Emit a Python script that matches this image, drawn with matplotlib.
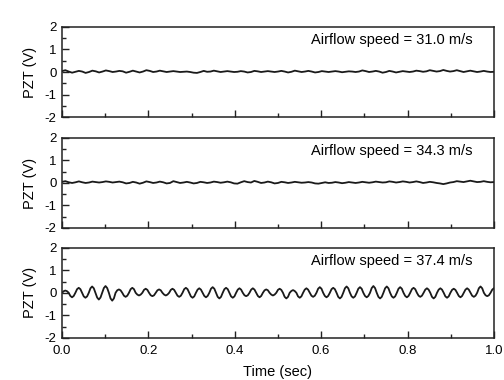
import numpy as np
import matplotlib
matplotlib.use("Agg")
import matplotlib.pyplot as plt
from matplotlib.ticker import MultipleLocator

plt.rcParams['font.family'] = ['Liberation Sans', 'DejaVu Sans']

speeds = ["31.0", "34.3", "37.4"]
x_ticks = [0.0, 0.2, 0.4, 0.6, 0.8, 1.0]
x_tick_labels = ["0.0", "0.2", "0.4", "0.6", "0.8", "1.0"]
y_ticks = [2, 1, 0, -1, -2]

# PZT voltage samples (V), evenly spaced over 0-1 s
pzt_31 = [0.04, 0.08, 0.02, -0.03, 0.01, 0.05, 0.02, -0.04, 0.00, 0.06, 0.03, -0.02,
          0.02, 0.07, 0.04, 0.00, 0.02, 0.05, 0.03, -0.03, 0.01, 0.06, 0.02, -0.02,
          0.02, 0.08, 0.05, 0.00, 0.02, 0.06, 0.03, 0.00, 0.02, 0.04, 0.02, 0.00,
          0.01, 0.02, 0.00, -0.03, -0.04, 0.00, 0.05, 0.01, 0.02, 0.06, 0.03, 0.00,
          0.02, 0.04, 0.02, 0.00, 0.01, 0.04, 0.02, -0.02, 0.00, 0.05, 0.03, 0.00,
          0.02, 0.04, 0.02, 0.00, 0.02, 0.05, 0.02, -0.02, 0.01, 0.06, 0.03, 0.00,
          0.02, 0.05, 0.02, -0.02, 0.00, 0.04, 0.02, 0.00, 0.02, 0.04, 0.02, -0.01,
          0.01, 0.03, 0.02, 0.00, 0.02, 0.07, 0.04, 0.00, 0.02, 0.05, 0.02, -0.03,
          0.00, 0.05, 0.02, -0.02, 0.01, 0.04, 0.02, 0.00, 0.02, 0.06, 0.04, 0.01,
          0.03, 0.08, 0.05, 0.02, 0.04, 0.09, 0.05, 0.02, 0.04, 0.08, 0.04, 0.00,
          0.03, 0.06, 0.03, 0.00, 0.02, 0.05, 0.02, 0.00, 0.01]

pzt_34 = [0.05, 0.08, 0.03, 0.00, 0.03, 0.07, 0.03, 0.00, 0.02, 0.06, 0.04, 0.02,
          0.04, 0.07, 0.05, 0.02, 0.04, 0.06, 0.03, -0.02, 0.00, 0.05, 0.02, -0.03,
          0.01, 0.07, 0.04, 0.00, 0.02, 0.06, 0.03, -0.02, 0.00, 0.08, 0.04, 0.00,
          0.02, 0.05, 0.02, -0.02, 0.00, 0.05, 0.03, 0.00, 0.02, 0.06, 0.04, 0.01,
          0.03, 0.06, 0.03, -0.02, -0.03, 0.03, 0.08, 0.04, 0.02, 0.09, 0.05, 0.00,
          0.02, 0.06, 0.03, -0.02, 0.00, 0.05, 0.03, 0.00, 0.02, 0.05, 0.03, 0.01,
          0.02, 0.04, 0.02, -0.02, -0.03, 0.00, 0.03, 0.00, 0.01, 0.04, 0.02, -0.01,
          0.01, 0.04, 0.02, 0.00, 0.02, 0.05, 0.03, 0.01, 0.03, 0.06, 0.04, 0.02,
          0.03, 0.07, 0.05, 0.02, 0.04, 0.07, 0.05, 0.02, 0.04, 0.07, 0.04, 0.00,
          0.02, 0.05, 0.03, 0.00, -0.02, -0.05, -0.02, 0.02, 0.04, 0.08, 0.06, 0.04,
          0.07, 0.10, 0.07, 0.04, 0.05, 0.08, 0.05, 0.03, 0.04]

pzt_37 = [0.00, 0.07, 0.10, 0.07, 0.00, -0.14, -0.20, -0.14,
          0.00, 0.16, 0.22, 0.16, 0.00, -0.16, -0.22, -0.16,
          0.00, 0.20, 0.28, 0.20, 0.00, -0.21, -0.30, -0.21,
          0.00, 0.21, 0.30, 0.21, 0.00, -0.25, -0.35, -0.25,
          0.00, 0.11, 0.15, 0.11, 0.00, -0.13, -0.18, -0.13,
          0.00, 0.16, 0.22, 0.16, 0.00, -0.08, -0.12, -0.08,
          0.00, 0.13, 0.18, 0.13, 0.00, -0.11, -0.15, -0.11,
          0.00, 0.11, 0.15, 0.11, 0.00, -0.08, -0.12, -0.08,
          0.00, 0.13, 0.18, 0.13, 0.00, -0.13, -0.18, -0.13,
          0.00, 0.16, 0.22, 0.16, 0.00, -0.16, -0.22, -0.16,
          0.00, 0.14, 0.20, 0.14, 0.00, -0.14, -0.20, -0.14,
          0.00, 0.18, 0.25, 0.18, 0.00, -0.18, -0.25, -0.18,
          0.00, 0.16, 0.22, 0.16, 0.00, -0.16, -0.22, -0.16,
          0.00, 0.14, 0.20, 0.14, 0.00, -0.11, -0.15, -0.11,
          0.00, 0.14, 0.20, 0.14, 0.00, -0.14, -0.20, -0.14,
          0.00, 0.11, 0.15, 0.11, 0.00, -0.08, -0.12, -0.08,
          0.00, 0.13, 0.18, 0.13, 0.00, -0.18, -0.25, -0.18,
          0.00, 0.08, 0.12, 0.08, 0.00, -0.16, -0.22, -0.16,
          0.00, 0.14, 0.20, 0.14, 0.00, -0.13, -0.18, -0.13,
          0.00, 0.18, 0.25, 0.18, 0.00, -0.14, -0.20, -0.14,
          0.00, 0.16, 0.22, 0.16, 0.00, -0.18, -0.25, -0.18,
          0.00, 0.20, 0.28, 0.20, 0.00, -0.16, -0.22, -0.16,
          0.00, 0.18, 0.25, 0.18, 0.00, -0.14, -0.20, -0.14,
          0.00, 0.21, 0.30, 0.21, 0.00, -0.18, -0.25, -0.18,
          0.00, 0.20, 0.28, 0.20, 0.00, -0.16, -0.22, -0.16,
          0.00, 0.18, 0.25, 0.18, 0.00, -0.14, -0.20, -0.14,
          0.00, 0.16, 0.22, 0.16, 0.00, -0.13, -0.18, -0.13,
          0.00, 0.14, 0.20, 0.14, 0.00, -0.18, -0.25, -0.18,
          0.00, 0.14, 0.20, 0.14, 0.00, -0.16, -0.22, -0.16,
          0.00, 0.13, 0.18, 0.13, 0.00, -0.14, -0.20, -0.14,
          0.00, 0.14, 0.20, 0.14, 0.00, -0.13, -0.18, -0.13,
          0.00, 0.20, 0.28, 0.20, 0.00, -0.11, -0.15, -0.11,
          0.00, 0.14, 0.20]

series = [pzt_31, pzt_34, pzt_37]

fig = plt.figure(figsize=(5.04, 3.8), dpi=100)
left, width = 0.123, 0.857
bottoms = [0.692, 0.400, 0.111]
height = 0.237

for i, (vals, spd) in enumerate(zip(series, speeds)):
    ax = fig.add_axes([left, bottoms[i], width, height])
    t = np.linspace(0, 1, len(vals))
    ax.plot(t, vals, color='#1a1a1a', lw=1.3)
    ax.set_xlim(0, 1)
    ax.set_ylim(-2, 2)
    ax.set_yticks(y_ticks)
    ax.set_yticklabels([str(v) for v in y_ticks])
    ax.set_xticks(x_ticks)
    ax.xaxis.set_minor_locator(MultipleLocator(0.1))
    ax.yaxis.set_minor_locator(MultipleLocator(0.5))
    ax.tick_params(which='both', direction='in', top=False, right=False,
                   labelsize=9.5, color='#222222')
    ax.tick_params(axis='x', pad=5)
    ax.tick_params(axis='y', pad=4)
    ax.tick_params(which='major', length=5, width=1)
    ax.tick_params(which='minor', length=3, width=1)
    for sp in ax.spines.values():
        sp.set_linewidth(1.1)
        sp.set_color('#222222')
    ax.set_ylabel("PZT (V)", fontsize=10.5, labelpad=5)
    ax.text(0.951, 0.85, "Airflow speed = %s m/s" % spd, transform=ax.transAxes,
            ha='right', va='center', fontsize=10.5)
    if i < 2:
        ax.set_xticklabels([])
    else:
        ax.set_xticklabels(x_tick_labels)
        ax.set_xlabel("Time (sec)", fontsize=10.5, labelpad=6)

fig.savefig("out.png", dpi=100)
